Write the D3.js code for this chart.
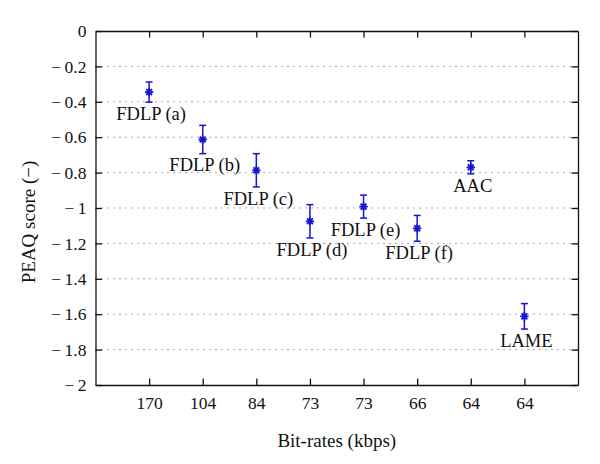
<!DOCTYPE html>
<html>
<head>
<meta charset="utf-8">
<script src="https://cdn.jsdelivr.net/npm/d3@7"></script>
<style>
  body { margin: 0; background: #fff; }
  svg text { font-family: "Liberation Serif", "Times New Roman", Times, "DejaVu Serif", serif !important; fill: #111; }
</style>
</head>
<body>
<div id="chart"></div>
<script>
// codecs and their bit-rates (kbps)
const labels = ["FDLP (a)", "FDLP (b)", "FDLP (c)", "FDLP (d)", "FDLP (e)", "FDLP (f)", "AAC", "LAME"];
const bitrates = ["170", "104", "84", "73", "73", "66", "64", "64"];
// mean PEAQ score and error (half-length of the bar)
const scores = [-0.345, -0.613, -0.787, -1.075, -0.992, -1.115, -0.770, -1.612];
const errors = [0.057, 0.080, 0.094, 0.094, 0.065, 0.073, 0.037, 0.072];
const yTicks = [0, -0.2, -0.4, -0.6, -0.8, -1, -1.2, -1.4, -1.6, -1.8, -2];

const width = 600;
const height = 464;
const marginLeft = 95.5;
const marginRight = 22;
const marginTop = 31;
const marginBottom = 79;
const blue = "#1515d6";
const serif = '"Liberation Serif", "Times New Roman", Times, "DejaVu Serif", serif';

const data = labels.map((l, i) => ({
  label: l, pos: i + 1, rate: bitrates[i], score: scores[i], err: errors[i]
}));

const x = d3.scaleLinear()
    .domain([0, 9])
    .range([marginLeft, width - marginRight]);

const y = d3.scaleLinear()
    .domain([-2, 0])
    .range([height - marginBottom, marginTop]);

const svg = d3.select("#chart")
  .append("svg")
    .attr("width", width)
    .attr("height", height)
    .attr("viewBox", [0, 0, width, height])
    .attr("font-family", serif);

// dotted horizontal grid
svg.append("g")
  .selectAll("line")
  .data(yTicks.slice(1, -1))
  .join("line")
    .attr("x1", x(0))
    .attr("x2", x(9))
    .attr("y1", d => y(d))
    .attr("y2", d => y(d))
    .attr("stroke", "#555")
    .attr("stroke-width", 1)
    .attr("stroke-dasharray", "1,5");

const fmt = d => d === 0 ? "0" : "\u2212\u2009" + d3.format("")(Math.abs(d));

// axes (ticks pointing inward, matlab box style)
svg.append("g")
    .attr("transform", `translate(0,${y(-2)})`)
    .call(d3.axisBottom(x).tickValues(data.map(d => d.pos))
      .tickFormat((d, i) => bitrates[i]).tickSizeInner(-6.5).tickSizeOuter(0).tickPadding(12))
    .call(g => g.selectAll("text").attr("font-size", 17.5).attr("fill", "#111"));

svg.append("g")
    .attr("transform", `translate(0,${y(0)})`)
    .call(d3.axisTop(x).tickValues(data.map(d => d.pos))
      .tickFormat("").tickSizeInner(-6.5).tickSizeOuter(0));

svg.append("g")
    .attr("transform", `translate(${x(0)},0)`)
    .call(d3.axisLeft(y).tickValues(yTicks).tickFormat(fmt)
      .tickSizeInner(-6.5).tickSizeOuter(0).tickPadding(9))
    .call(g => g.selectAll("text").attr("font-size", 17.5).attr("fill", "#111"));

svg.append("g")
    .attr("transform", `translate(${x(9)},0)`)
    .call(d3.axisRight(y).tickValues(yTicks).tickFormat("")
      .tickSizeInner(-6.5).tickSizeOuter(0));

svg.selectAll(".domain").attr("stroke", "#111").attr("stroke-width", 1.3);
svg.selectAll(".tick line").attr("stroke", "#111").attr("stroke-width", 1.3);
svg.selectAll("g").attr("font-family", serif);

// error bars
const bars = svg.append("g")
  .selectAll("g")
  .data(data)
  .join("g")
    .attr("stroke", blue)
    .attr("stroke-width", 1.5);

bars.append("line")
    .attr("x1", d => x(d.pos)).attr("x2", d => x(d.pos))
    .attr("y1", d => y(d.score + d.err)).attr("y2", d => y(d.score - d.err));
bars.append("line")
    .attr("x1", d => x(d.pos) - 3.5).attr("x2", d => x(d.pos) + 3.5)
    .attr("y1", d => y(d.score + d.err)).attr("y2", d => y(d.score + d.err));
bars.append("line")
    .attr("x1", d => x(d.pos) - 3.5).attr("x2", d => x(d.pos) + 3.5)
    .attr("y1", d => y(d.score - d.err)).attr("y2", d => y(d.score - d.err));

// asterisk markers
svg.append("g")
  .selectAll("path")
  .data(data)
  .join("path")
    .attr("transform", d => `translate(${x(d.pos)},${y(d.score)})`)
    .attr("d", () => {
      const r = 4.2, k = r * 0.7;
      return `M${-r},0H${r}M0,${-r}V${r}M${-k},${-k}L${k},${k}M${-k},${k}L${k},${-k}`;
    })
    .attr("fill", "none")
    .attr("stroke", blue)
    .attr("stroke-width", 1.8);

// point labels below the bars
svg.append("g")
  .selectAll("text")
  .data(data)
  .join("text")
    .attr("x", d => x(d.pos) + 2)
    .attr("y", d => y(d.score - d.err - 0.1))
    .attr("text-anchor", "middle")
    .attr("font-size", 18.5)
    .text(d => d.label);

// axis titles
svg.append("text")
    .attr("x", (x(0) + x(9)) / 2)
    .attr("y", 447)
    .attr("text-anchor", "middle")
    .attr("font-size", 19)
    .text("Bit-rates (kbps)");

svg.append("text")
    .attr("transform", `translate(35,${(y(0) + y(-2)) / 2 + 14}) rotate(-90)`)
    .attr("text-anchor", "middle")
    .attr("font-size", 19)
    .text("PEAQ score (\u2212)");
</script>
</body>
</html>
